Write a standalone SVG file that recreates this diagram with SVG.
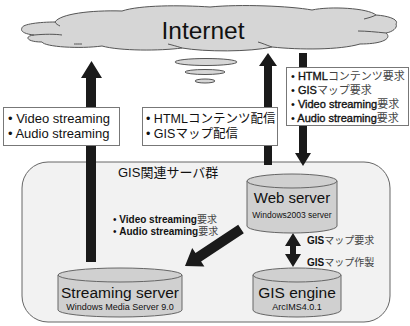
<svg xmlns="http://www.w3.org/2000/svg" width="410" height="326" viewBox="0 0 410 326">
<style>
text{font-family:"Liberation Sans","Noto Sans CJK JP",sans-serif;fill:#111}
.box{fill:#fff;stroke:#777;stroke-width:1}
.cyl{fill:#d0d0d0;stroke:#666;stroke-width:1}
.arr{fill:#1a1a1a}
.b{font-weight:bold}
.m{stroke:#111;stroke-width:0.35}
.jp{font-weight:normal;fill:#444;stroke:none}
</style>
<rect width="410" height="326" fill="#fff"/>
<g id="cloud">
<path d="M22 28 C22 24 40 22 55 22 C60 14 90 10 122 11 C140 5 180 5 210 7 C240 4 290 6 312 10 C330 6 368 8 376 15 C390 16 399 20 396 24 C398 28 392 32 386 33 C392 38 384 44 360 44 C340 50 300 50 272 47 C250 52 205 52 182 48 C160 51 120 51 102 46 C80 49 45 47 42 42 C26 42 24 36 34 35 C24 34 20 31 22 28 Z" fill="#d6d6d6" stroke="#555" stroke-width="1"/>
<path d="M34 35 C45 34 55 34 62 35 M82 44 C78 44 76 44 74 44 M55 22 C56 24 58 25 60 26 M376 15 C372 17 368 18 364 19 M386 33 C376 32 366 31 358 31 M272 47 C266 45 262 43 258 42 M182 48 C176 46 172 45 168 44" fill="none" stroke="#555" stroke-width="1"/>
<text x="203" y="39" font-size="24.5" text-anchor="middle">Internet</text>
</g>
<g id="bubbles">
<ellipse cx="206" cy="62" rx="31" ry="3.5" fill="#d6d6d6" stroke="#555"/>
<ellipse cx="205" cy="72" rx="20" ry="2.5" fill="#d6d6d6" stroke="#555"/>
<ellipse cx="205" cy="81" rx="10" ry="2" fill="#d6d6d6" stroke="#555"/>
</g>
<g id="group">
<rect x="22" y="162" width="368" height="160" rx="26" ry="26" fill="#f2f2f2" stroke="#666" stroke-width="1"/>
<text x="118" y="177" font-size="13">GIS関連サーバ群</text>
</g>
<g id="connectors">
<polygon class="arr" points="86,262 86,78 81,78 91.5,61 102,78 96,78 96,262"/>
<polygon class="arr" points="264,165 264,66 259,66 268,53 277,66 272,66 272,165"/>
<polygon class="arr" points="299,53 307,53 307,153 311,153 303,166 295,153 299,153"/>
<polygon class="arr" points="238.2,224.8 195.5,253 192.2,248 185,266 204.4,266.4 201.1,261.4 243.8,233.2"/>
<polygon class="arr" points="293,233 301,246 296,246 296,254 301,254 293,267 285,254 290,254 290,246 285,246"/>
</g>
<g id="label-stream">
<rect class="box" x="3.5" y="107.5" width="116" height="38"/>
<text x="8" y="123" font-size="13">• Video streaming</text>
<text x="8" y="138" font-size="13">• Audio streaming</text>
</g>
<g id="label-html">
<rect class="box" x="142.5" y="107.5" width="135" height="38"/>
<text x="146" y="123" font-size="12.5">• HTMLコンテンツ配信</text>
<text x="146" y="138" font-size="12.5">• GISマップ配信</text>
</g>
<g id="label-req">
<rect class="box" x="286.5" y="67.5" width="122" height="58"/>
<text x="291" y="80" font-size="11">• <tspan class="m">HTML</tspan><tspan class="jp">コンテンツ要求</tspan></text>
<text x="291" y="94" font-size="11">• <tspan class="m">GIS</tspan><tspan class="jp">マップ要求</tspan></text>
<text x="291" y="108" font-size="11">• <tspan class="m">Video streaming</tspan><tspan class="jp">要求</tspan></text>
<text x="291" y="122" font-size="11">• <tspan class="m">Audio streaming</tspan><tspan class="jp">要求</tspan></text>
</g>
<g id="label-inner">
<text x="113" y="223" font-size="10">• <tspan class="b">Video streaming</tspan><tspan class="jp">要求</tspan></text>
<text x="113" y="235" font-size="10">• <tspan class="b">Audio streaming</tspan><tspan class="jp">要求</tspan></text>
</g>
<g id="label-gis">
<text x="307" y="244" font-size="10"><tspan class="b">GIS</tspan><tspan class="jp">マップ要求</tspan></text>
<text x="307" y="266" font-size="10"><tspan class="b">GIS</tspan><tspan class="jp">マップ作製</tspan></text>
</g>
<g id="web-server">
<path class="cyl" d="M247 181 V226 A45 7 0 0 0 337 226 V181 Z"/>
<ellipse class="cyl" cx="292" cy="181" rx="45" ry="7"/>
<text x="292" y="203" font-size="15" text-anchor="middle">Web server</text>
<text x="292" y="218" font-size="8.5" text-anchor="middle" fill="#333">Windows2003 server</text>
</g>
<g id="streaming-server">
<path class="cyl" d="M58 275 V310 A62 7 0 0 0 182 310 V275 Z"/>
<ellipse class="cyl" cx="120" cy="275" rx="62" ry="7"/>
<text x="120" y="298" font-size="15.5" text-anchor="middle">Streaming server</text>
<text x="120" y="310" font-size="9" text-anchor="middle" fill="#333">Windows Media Server 9.0</text>
</g>
<g id="gis-engine">
<path class="cyl" d="M253 275 V310 A44 7 0 0 0 341 310 V275 Z"/>
<ellipse class="cyl" cx="297" cy="275" rx="44" ry="7"/>
<text x="297" y="298" font-size="15.5" text-anchor="middle">GIS engine</text>
<text x="297" y="310" font-size="9" text-anchor="middle" fill="#333">ArcIMS4.0.1</text>
</g>
</svg>
